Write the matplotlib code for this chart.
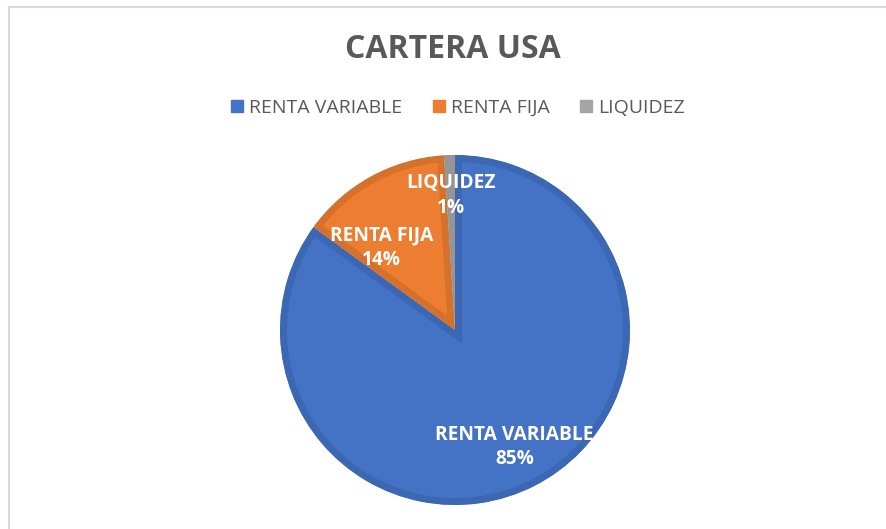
import matplotlib.pyplot as plt
from matplotlib.lines import Line2D
import numpy as np

plt.rcParams['font.family'] = ['Open Sans', 'DejaVu Sans']

# data
categories = ['RENTA VARIABLE', 'RENTA FIJA', 'LIQUIDEZ']
values = [85, 14, 1]
colors = ['#4472C4', '#ED7D31', '#A5A5A5']
edge_colors = ['#3C67B3', '#D6712C', '#959595']

W, H = 886, 529
fig = plt.figure(figsize=(W / 100, H / 100), dpi=100)

# pie centre (455, 330) px, radius 175 px
cx, cy, r = 455, 330, 175
ax = fig.add_axes([(cx - r) / W, (H - cy - r) / H, 2 * r / W, 2 * r / H])

wedges, _ = ax.pie(values, colors=colors, startangle=90, counterclock=False,
                   radius=1.0)
for w, ec in zip(wedges, edge_colors):
    w.set_edgecolor(ec)
    w.set_linewidth(10)
    w.set_clip_path(w)   # keep the border inside each slice
    w.set_clip_on(True)
ax.set_xlim(-1, 1)
ax.set_ylim(-1, 1)

# data labels (distance / angle tweak per slice like excel best fit)
label_pos = [(0.75, 0.0), (0.63, 13.0), (0.77, 0.0)]
for w, cat, v, (d, da) in zip(wedges, categories, values, label_pos):
    ang = np.deg2rad((w.theta1 + w.theta2) / 2 + da)
    ax.text(d * np.cos(ang), d * np.sin(ang), '%s\n%d%%' % (cat, v),
            ha='center', va='center', color='white', fontsize=13.8,
            fontweight='bold', linespacing=1.3)

# title
fig.text(453 / W, 1 - 50 / H, 'CARTERA USA', ha='center', va='center',
         fontsize=23, fontweight='bold', color='#595959')

# legend
handles = [Line2D([], [], marker='s', linestyle='none', markersize=9,
                  markerfacecolor=c, markeredgecolor=c) for c in colors]
fig.legend(handles, categories, loc='center', bbox_to_anchor=(458 / W, 1 - 108 / H),
           ncol=3, frameon=False, fontsize=14, labelcolor='#595959',
           handlelength=0.6, handletextpad=0.3, columnspacing=1.6)

# chart area frame (only top and left visible)
fig.add_artist(Line2D([8.5 / W, 8.5 / W], [0, 1 - 6.5 / H], color='#D9D9D9', lw=1.5))
fig.add_artist(Line2D([8.5 / W, 1], [1 - 6.5 / H, 1 - 6.5 / H], color='#D9D9D9', lw=1.5))

fig.savefig('out.png', dpi=100)
